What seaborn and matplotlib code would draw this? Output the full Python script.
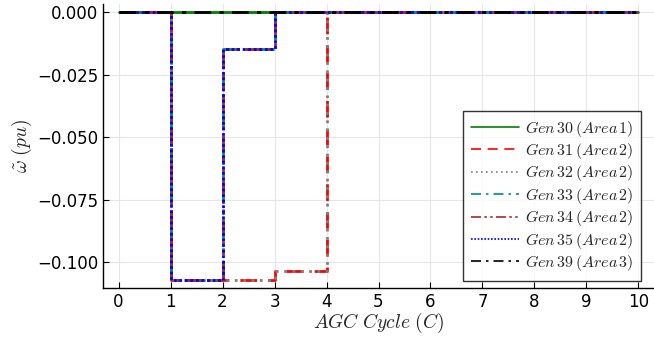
import numpy as np
import pandas as pd
import matplotlib
matplotlib.use("Agg")
import matplotlib.pyplot as plt
import seaborn as sns

cycles = [0, 1, 2, 3, 4, 5, 6, 7, 8, 9, 10]
gen30 = [0, 0, 0, 0, 0, 0, 0, 0, 0, 0, 0]
gen31 = [0, -0.107, -0.107, -0.1033, 0, 0, 0, 0, 0, 0, 0]
gen32 = [0, -0.107, -0.107, -0.1033, 0, 0, 0, 0, 0, 0, 0]
gen33 = [0, -0.107, -0.0148, 0, 0, 0, 0, 0, 0, 0, 0]
gen34 = [0, -0.107, -0.0148, 0, 0, 0, 0, 0, 0, 0, 0]
gen35 = [0, -0.107, -0.0148, 0, 0, 0, 0, 0, 0, 0, 0]
gen39 = [0, 0, 0, 0, 0, 0, 0, 0, 0, 0, 0]

labels = [r"$Gen\,30\,(Area\,1)$", r"$Gen\,31\,(Area\,2)$", r"$Gen\,32\,(Area\,2)$",
          r"$Gen\,33\,(Area\,2)$", r"$Gen\,34\,(Area\,2)$", r"$Gen\,35\,(Area\,2)$",
          r"$Gen\,39\,(Area\,3)$"]
series = [gen30, gen31, gen32, gen33, gen34, gen35, gen39]
colors = ["#008000", "#ff0000", "#808080", "#008b8b", "#a52a2a", "#0000ff", "#000000"]
styles = ["-", (0, (6, 4)), (0, (1, 2)), (0, (6, 3, 1.5, 3)), (0, (6, 2, 1.5, 2, 1.5, 2)),
          (0, (1, 1)), (0, (6, 3, 1.5, 3))]

sns.set_style("white")
plt.rcParams["mathtext.fontset"] = "cm"
plt.rcParams["font.family"] = ["DejaVu Sans"]

fig = plt.figure(figsize=(6.54, 3.43), dpi=100)
ax = fig.add_axes([103/654, 55/343, (654-103)/654, (288-4)/343])

for lab, ys, c, ls in zip(labels, series, colors, styles):
    df = pd.DataFrame({"x": cycles, "y": ys})
    sns.lineplot(data=df, x="x", y="y", ax=ax, color=c, linestyle=ls,
                 drawstyle="steps-post", linewidth=2, label=lab)

ax.set_xlim(-0.3, 10.3)
ax.set_ylim(-0.1102, 0.0032)
ax.set_xticks(range(0, 11))
ax.set_yticks([0.0, -0.025, -0.05, -0.075, -0.1])
ax.set_yticklabels(["0.000", "\u22120.025", "\u22120.050", "\u22120.075", "\u22120.100"])
ax.grid(True, color="#e6e6e6", linewidth=0.8)
for s in ["top", "right"]:
    ax.spines[s].set_visible(False)
for s in ["left", "bottom"]:
    ax.spines[s].set_color("black")
    ax.spines[s].set_linewidth(1.0)
ax.tick_params(direction="in", length=4, width=0.8, labelsize=12, colors="black",
               left=True, bottom=True)
ax.set_xlabel(r"$AGC\ Cycle\ (C)$", fontsize=14, labelpad=0)
ax.set_ylabel(r"$\tilde{\omega}\ (pu)$", fontsize=14, labelpad=2)

leg = ax.legend(loc="lower right", bbox_to_anchor=(0.977, 0.025), fontsize=11.5,
                frameon=True, fancybox=False, edgecolor="black", handlelength=3.0,
                handletextpad=0.4, borderpad=0.5, labelspacing=0.15, borderaxespad=0)
leg.get_frame().set_linewidth(1.0)
for h in leg.get_lines():
    h.set_linewidth(1.2)

fig.savefig("out.png", dpi=100)
